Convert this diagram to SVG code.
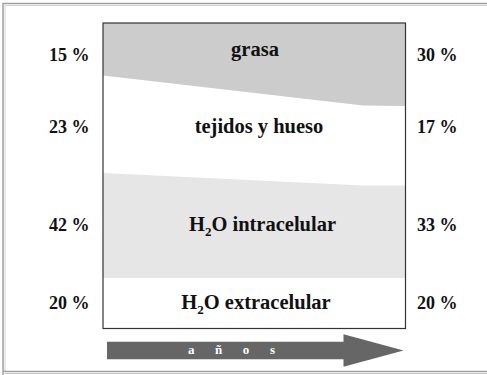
<svg xmlns="http://www.w3.org/2000/svg" width="487" height="375" viewBox="0 0 487 375">
<style>
.t{font-family:"Liberation Serif","Times New Roman",serif;font-weight:bold;fill:#111}
.p{font-size:18px}
.b{font-size:20.5px;text-anchor:middle}
.l{text-anchor:end}
</style>
<rect width="487" height="375" fill="#ffffff"/>
<g id="frame" fill="none">
<path d="M3,375 V3.5 H487" stroke="#a0a0a0" stroke-width="1.5"/>
<path d="M5,372 V5.5 H487" stroke="#d0d0d0" stroke-width="1"/>
<path d="M3,371.5 H487" stroke="#a0a0a0" stroke-width="1.5"/>
<path d="M5,373.5 H487" stroke="#c8c8c8" stroke-width="1"/>
</g>
<g id="chart">
<rect x="103" y="23" width="302.5" height="305.5" fill="#ffffff"/>
<polygon id="grasa-band" points="103,23 405.5,23 405.5,106 363,105.5 103,75.5" fill="#cccccc"/>
<polygon id="intra-band" points="103,173 363,185.5 405.5,185.5 405.5,278 103,278" fill="#e6e6e6"/>
<rect x="103" y="23" width="302.5" height="305.5" fill="none" stroke="#333333" stroke-width="1.2"/>
</g>
<g id="grasa"><text class="t b" x="255" y="56">grasa</text></g>
<g id="tejidos"><text class="t b" x="259" y="133.3">tejidos y hueso</text></g>
<g id="intracelular"><text class="t b" x="262.5" y="231">H<tspan font-size="13" dy="5">2</tspan><tspan dy="-5">O intracelular</tspan></text></g>
<g id="extracelular"><text class="t b" x="256" y="309">H<tspan font-size="13" dy="5">2</tspan><tspan dy="-5">O extracelular</tspan></text></g>
<g id="left-labels">
<text class="t p l" x="89.5" y="61">15 %</text>
<text class="t p l" x="89.5" y="133">23 %</text>
<text class="t p l" x="89.5" y="231">42 %</text>
<text class="t p l" x="89.5" y="309">20 %</text>
</g>
<g id="right-labels">
<text class="t p" x="417" y="61">30 %</text>
<text class="t p" x="417" y="133">17 %</text>
<text class="t p" x="417" y="231">33 %</text>
<text class="t p" x="417" y="309">20 %</text>
</g>
<g id="arrow">
<polygon points="107,341.7 343.5,341.7 343.5,334.3 403.5,350.5 343.5,366.8 343.5,359.2 107,359.2" fill="#666666"/>
<text x="188" y="354" font-family="Liberation Serif, serif" font-weight="bold" font-size="13" fill="#ffffff" textLength="87" lengthAdjust="spacing">a ñ o s</text>
</g>
</svg>
